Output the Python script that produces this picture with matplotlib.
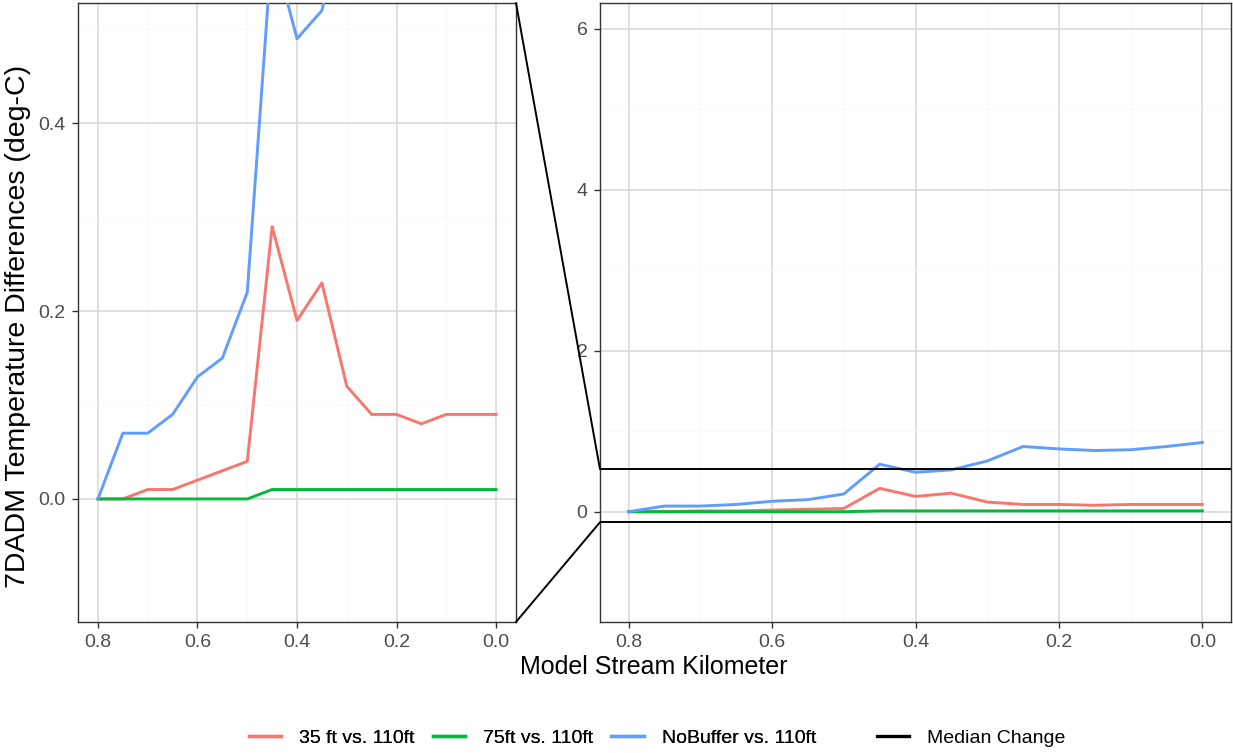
import matplotlib.pyplot as plt
import numpy as np
from matplotlib.lines import Line2D
from matplotlib.patches import ConnectionPatch

plt.rcParams['font.family'] = ['Liberation Sans', 'DejaVu Sans']

# model stream km, upstream (0.8) to downstream (0.0)
km = [0.80, 0.75, 0.70, 0.65, 0.60, 0.55, 0.50, 0.45, 0.40,
      0.35, 0.30, 0.25, 0.20, 0.15, 0.10, 0.05, 0.00]
diff_35 = [0.00, 0.00, 0.01, 0.01, 0.02, 0.03, 0.04, 0.29, 0.19,
           0.23, 0.12, 0.09, 0.09, 0.08, 0.09, 0.09, 0.09]
diff_75 = [0.00, 0.00, 0.00, 0.00, 0.00, 0.00, 0.00, 0.01, 0.01,
           0.01, 0.01, 0.01, 0.01, 0.01, 0.01, 0.01, 0.01]
diff_nobuf = [0.00, 0.07, 0.07, 0.09, 0.13, 0.15, 0.22, 0.59, 0.49,
              0.52, 0.63, 0.81, 0.78, 0.76, 0.77, 0.81, 0.86]

series = [("35 ft vs. 110ft", diff_35, "#F8766D"),
          ("75ft vs. 110ft", diff_75, "#00BA38"),
          ("NoBuffer vs. 110ft", diff_nobuf, "#619CFF")]

zoom_lim = (-0.131, 0.528)
full_lim = (-1.37, 6.32)
x_lim = (0.84, -0.04)

fig = plt.figure(figsize=(12.33, 7.53), dpi=100)
ax1 = fig.add_axes([0.0633, 0.174, 0.3552, 0.822])
ax2 = fig.add_axes([0.4866, 0.174, 0.5118, 0.822])

for ax, ylim, yt in [(ax1, zoom_lim, [0.0, 0.2, 0.4]), (ax2, full_lim, [0, 2, 4, 6])]:
    for name, vals, col in series:
        ax.plot(km, vals, color=col, lw=2.1, label=name, zorder=3)
    ax.set_xlim(*x_lim)
    ax.set_ylim(*ylim)
    ax.set_xticks([0.8, 0.6, 0.4, 0.2, 0.0])
    ax.set_xticklabels(["0.8", "0.6", "0.4", "0.2", "0.0"])
    ax.set_yticks(yt)
    ax.set_xticks([0.7, 0.5, 0.3, 0.1], minor=True)
    ax.grid(True, which='major', color='#D6D6D6', lw=1.1, zorder=0)
    ax.grid(True, which='minor', color='#F7F7F7', lw=0.5, zorder=0)
    ax.tick_params(which='major', direction='out', length=4, width=1,
                   color='#333333', labelcolor='#4D4D4D', labelsize=14, pad=5)
    ax.tick_params(which='minor', length=0)
    for s in ax.spines.values():
        s.set_color('#333333')
        s.set_linewidth(1.0)

ax1.set_yticks([0.1, 0.3, 0.5], minor=True)
ax1.set_yticklabels(["0.0", "0.2", "0.4"])
ax2.set_yticks([1, 3, 5], minor=True)
ax2.set_yticklabels(["0", "2", "4", "6"])

# zoom window shown on the full panel
for yv in zoom_lim:
    ax2.axhline(yv, color='black', lw=1.4, zorder=4)

# connectors between the zoom panel and the zoom window
for ya, yb in [(1, zoom_lim[1]), (0, zoom_lim[0])]:
    cp = ConnectionPatch(xyA=(1, ya), coordsA=ax1.transAxes,
                         xyB=(x_lim[0], yb), coordsB=ax2.transData,
                         color='black', lw=1.4)
    fig.add_artist(cp)

fig.text(0.0145, 0.566, "7DADM Temperature Differences (deg-C)", rotation=90,
         ha='center', va='center', fontsize=20.5)
fig.text(0.530, 0.114, "Model Stream Kilometer", ha='center', va='center', fontsize=18)

h1 = [Line2D([], [], color=c, lw=2.4) for _, _, c in series]
leg1 = fig.legend(h1, [n for n, _, _ in series], loc='center', ncol=3,
                  bbox_to_anchor=(0.432, 0.02), frameon=False, fontsize=14,
                  handlelength=1.65, columnspacing=0.93, handletextpad=0.93)
fig.add_artist(leg1)
fig.legend([Line2D([], [], color='black', lw=2.4)], ["Median Change"], loc='center',
           bbox_to_anchor=(0.7875, 0.02), frameon=False, fontsize=14,
           handlelength=1.65, handletextpad=0.93)

fig.savefig("out.png", dpi=100)
